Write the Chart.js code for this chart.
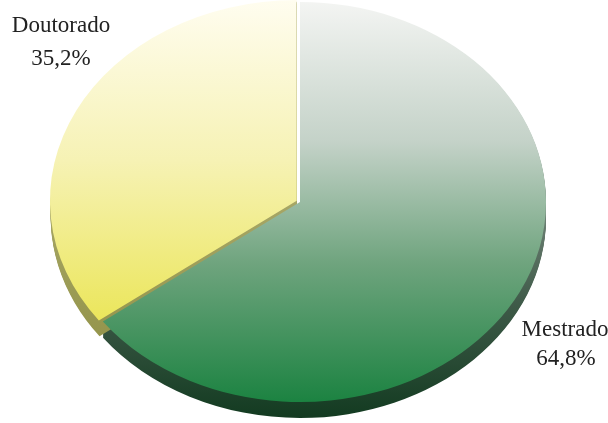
<!DOCTYPE html>
<html>
<head>
<meta charset="utf-8">
<script src="https://cdn.jsdelivr.net/npm/chart.js@4/dist/chart.umd.min.js"></script>
<style>
  body { margin: 0; background: #fff; }
  canvas { display: block; }
</style>
</head>
<body>
<canvas id="pie" width="608" height="423"></canvas>
<script>
// data
const categories = ['Mestrado', 'Doutorado'];
const values = [64.8, 35.2];
const percentLabels = ['64,8%', '35,2%'];

const stretchX = 1.23;   // pie is drawn as an ellipse
const depth = 16;        // thickness of the "3d" rim

function topGradient(ctx, i) {
  let g = ctx.createLinearGradient(0, 0, 0, 405);
  if (i === 0) {
    g.addColorStop(0, '#f4f5f3');
    g.addColorStop(0.35, '#c4d2c8');
    g.addColorStop(0.65, '#6fa47e');
    g.addColorStop(1, '#1a8240');
  } else {
    g.addColorStop(0, '#fffdf0');
    g.addColorStop(0.4, '#f6f2b4');
    g.addColorStop(0.8, '#ebe65a');
    g.addColorStop(1, '#e4e034');
  }
  return g;
}

function sideGradient(ctx, i) {
  let g = ctx.createLinearGradient(0, 190, 0, 420);
  if (i === 0) {
    g.addColorStop(0, '#7a8a80');
    g.addColorStop(0.5, '#3e5a48');
    g.addColorStop(1, '#123a20');
  } else {
    g.addColorStop(0, '#a8a868');
    g.addColorStop(1, '#8a8a3c');
  }
  return g;
}

const pie3d = {
  id: 'pie3d',
  beforeDatasetsDraw(chart) {
    const ctx = chart.ctx;
    const arcs = chart.getDatasetMeta(0).data;
    const cx = arcs[0].x, cy = arcs[0].y;
    ctx.save();
    ctx.translate(cx, cy);
    ctx.scale(stretchX, 1);
    ctx.translate(-cx, -cy);
    // rim: stacked copies of each slice pushed down
    arcs.forEach((arc, i) => {
      const p = arc.getProps(['x', 'y', 'startAngle', 'endAngle', 'outerRadius']);
      const off = (arc.options.offset || 0) / 4;
      const half = (p.startAngle + p.endAngle) / 2;
      const ox = Math.cos(half) * off, oy = Math.sin(half) * off;
      ctx.fillStyle = sideGradient(ctx, i);
      for (let d = depth; d >= 1; d--) {
        ctx.beginPath();
        ctx.moveTo(p.x + ox, p.y + oy + d);
        ctx.arc(p.x + ox, p.y + oy + d, p.outerRadius, p.startAngle, p.endAngle);
        ctx.closePath();
        ctx.fill();
      }
    });
  },
  afterDatasetsDraw(chart) {
    chart.ctx.restore();
  },
  afterDraw(chart) {
    const ctx = chart.ctx;
    ctx.save();
    ctx.font = '23px "Liberation Serif", "DejaVu Serif", serif';
    ctx.fillStyle = '#222';
    ctx.textAlign = 'center';
    ctx.textBaseline = 'alphabetic';
    // Doutorado top-left, Mestrado bottom-right
    ctx.fillText(categories[1], 61, 32);
    ctx.fillText(percentLabels[1], 61, 65);
    ctx.fillText(categories[0], 565, 336);
    ctx.fillText(percentLabels[0], 566, 365);
    ctx.restore();
  }
};

new Chart(document.getElementById('pie').getContext('2d'), {
  type: 'pie',
  data: {
    labels: categories,
    datasets: [{
      data: values,
      backgroundColor: (c) => topGradient(c.chart.ctx, c.dataIndex),
      borderWidth: 0,
      offset: [0, 12]
    }]
  },
  options: {
    responsive: false,
    animation: false,
    radius: 200,
    layout: { padding: { top: 2, bottom: 21, left: 0, right: 8 } },
    plugins: {
      legend: { display: false },
      tooltip: { enabled: false }
    }
  },
  plugins: [pie3d]
});
</script>
</body>
</html>
